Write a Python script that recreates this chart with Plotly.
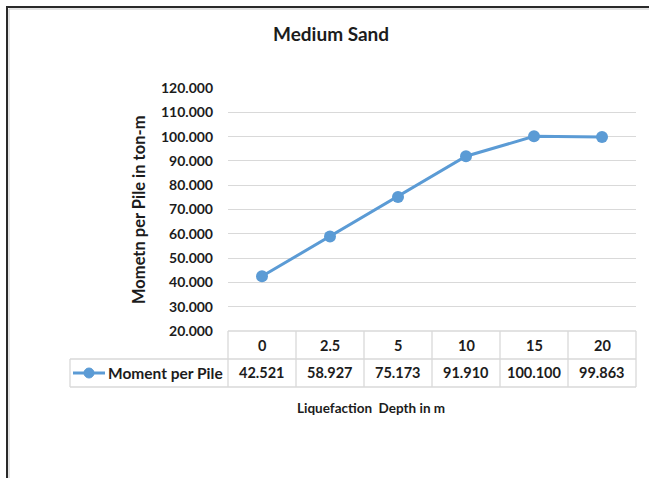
import plotly.graph_objects as go

# Chart data
depths = ["0", "2.5", "5", "10", "15", "20"]
moment = [42.521, 58.927, 75.173, 91.910, 100.100, 99.863]
series_name = "Moment per Pile"
title = "Medium Sand"
x_title = "Liquefaction  Depth in m"
y_title = "Mometn per Pile in ton-m"

W, H = 649, 478
# plot area in pixels
L, R, T, B = 228, 636, 88, 331
LINE = "#5B9BD5"
GRID = "#D9D9D9"
TXT = "#1c1c1c"
FONT = "Lato"


def px(X):
    return (X - L) / (R - L)


def py(Y):
    return (B - Y) / (B - T)


idx = list(range(len(depths)))

fig = go.Figure()
fig.add_trace(go.Scatter(
    x=idx, y=moment, mode="lines+markers", name=series_name,
    line=dict(color=LINE, width=3),
    marker=dict(color=LINE, size=12),
    cliponaxis=False, showlegend=False,
))

shapes = []
annotations = []

# outer chart border
shapes.append(dict(type="rect", xref="paper", yref="paper",
                   x0=px(7), x1=px(W + 10), y0=py(7), y1=py(H + 10),
                   line=dict(color="#2a2a2a", width=2), layer="above"))
shapes.append(dict(type="rect", xref="paper", yref="paper",
                   x0=px(9), x1=px(W + 10), y0=py(9), y1=py(H + 10),
                   line=dict(color="#c8c8c8", width=1), layer="above"))

# data table under the plot
row1, row2 = 359, 387
n = len(depths)
tcol = dict(color=GRID, width=1.3)
shapes.append(dict(type="line", xref="paper", yref="paper", x0=0, x1=1,
                   y0=py(B), y1=py(B), line=tcol))
shapes.append(dict(type="line", xref="paper", yref="paper", x0=px(70), x1=1,
                   y0=py(row1), y1=py(row1), line=tcol))
shapes.append(dict(type="line", xref="paper", yref="paper", x0=px(70), x1=1,
                   y0=py(row2), y1=py(row2), line=tcol))
shapes.append(dict(type="line", xref="paper", yref="paper", x0=px(70), x1=px(70),
                   y0=py(row1), y1=py(row2), line=tcol))
for i in range(n + 1):
    xb = i / n
    shapes.append(dict(type="line", xref="paper", yref="paper", x0=xb, x1=xb,
                       y0=py(B), y1=py(row2), line=tcol))

cell_font = dict(family=FONT, size=14.5, color=TXT, weight="bold")
for i, (d, v) in enumerate(zip(depths, moment)):
    annotations.append(dict(x=i, xref="x", y=py((B + row1) / 2), yref="paper",
                            text=d, showarrow=False, font=cell_font,
                            xanchor="center", yanchor="middle"))
    annotations.append(dict(x=i, xref="x", y=py((row1 + row2) / 2), yref="paper",
                            text=f"{v:.3f}", showarrow=False, font=cell_font,
                            xanchor="center", yanchor="middle"))

# legend key inside the table
ym = py((row1 + row2) / 2)
shapes.append(dict(type="line", xref="paper", yref="paper", x0=px(73), x1=px(105),
                   y0=ym, y1=ym, line=dict(color=LINE, width=3)))
shapes.append(dict(type="circle", xref="paper", yref="paper",
                   x0=px(84), x1=px(94), y0=py(368), y1=py(378),
                   fillcolor=LINE, line=dict(color=LINE, width=1)))
annotations.append(dict(x=px(106), xref="paper", y=ym, yref="paper",
                        text=series_name, showarrow=False,
                        font=dict(family=FONT, size=15.5, color=TXT, weight="bold"),
                        xanchor="left", yanchor="middle"))

# titles
annotations.append(dict(x=px(331), xref="paper", y=py(34), yref="paper",
                        text=title, showarrow=False,
                        font=dict(family=FONT, size=19, color=TXT, weight="bold"),
                        xanchor="center", yanchor="middle"))
annotations.append(dict(x=px(371), xref="paper", y=py(408), yref="paper",
                        text=x_title, showarrow=False,
                        font=dict(family=FONT, size=13.5, color=TXT, weight="bold"),
                        xanchor="center", yanchor="middle"))
annotations.append(dict(x=px(139), xref="paper", y=py(210), yref="paper",
                        text=y_title, showarrow=False, textangle=-90,
                        font=dict(family=FONT, size=16.5, color=TXT, weight="bold"),
                        xanchor="center", yanchor="middle"))

fig.update_layout(
    width=W, height=H,
    margin=dict(l=L, r=W - R, t=T, b=H - B),
    paper_bgcolor="white", plot_bgcolor="white",
    shapes=shapes, annotations=annotations,
    xaxis=dict(range=[-0.5, n - 0.5], showgrid=False, zeroline=False,
               showticklabels=False, showline=False, ticks=""),
    yaxis=dict(range=[20, 120], dtick=10, tick0=20, tickformat=".3f",
               showgrid=True, gridcolor=GRID, gridwidth=1.3,
               zeroline=False, showline=False, ticks="",
               ticklabelstandoff=14,
               tickfont=dict(family=FONT, size=14, color=TXT, weight="bold")),
)

fig.write_html("out.html")
